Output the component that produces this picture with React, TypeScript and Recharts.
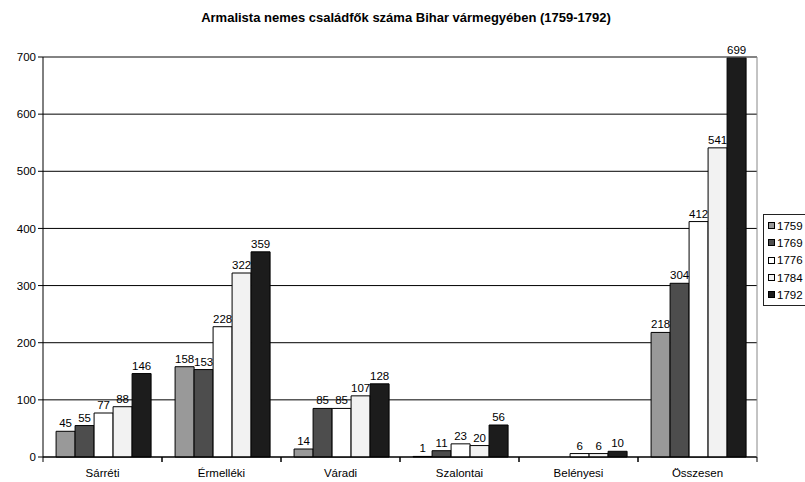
import { BarChart, Bar, XAxis, YAxis, CartesianGrid, LabelList, ReferenceLine } from 'recharts';

const categories = ['Sárréti', 'Érmelléki', 'Váradi', 'Szalontai', 'Belényesi', 'Összesen'];
const years = ['1759', '1769', '1776', '1784', '1792'];
const v1759 = [45, 158, 14, 1, null, 218];
const v1769 = [55, 153, 85, 11, null, 304];
const v1776 = [77, 228, 85, 23, 6, 412];
const v1784 = [88, 322, 107, 20, 6, 541];
const v1792 = [146, 359, 128, 56, 10, 699];
const yTicks = [0, 100, 200, 300, 400, 500, 600, 700];

const colors = ['#999999', '#4d4d4d', '#ffffff', '#f2f2f2', '#1c1c1c'];
const seriesValues = [v1759, v1769, v1776, v1784, v1792];

const data = categories.map((name, i) => {
  const row: Record<string, string | number | null> = { name };
  years.forEach((y, k) => {
    row[y] = seriesValues[k][i];
  });
  return row;
});

const font = '"Liberation Sans", Arial, sans-serif';

function CategoryTick(props: any) {
  const { x, y, payload } = props;
  const half = payload.offset || 0;
  return (
    <g>
      <line x1={x - half} y1={y - 8} x2={x - half} y2={y - 3} stroke="#000" />
      <line x1={x + half} y1={y - 8} x2={x + half} y2={y - 3} stroke="#000" />
      <text x={x} y={y + 12} textAnchor="middle" fontSize={11.5} fill="#000" fontFamily={font}>
        {payload.value}
      </text>
    </g>
  );
}

function LegendBox() {
  return (
    <div
      style={{
        position: 'absolute',
        left: 763,
        top: 214,
        border: '1px solid #222',
        width: 48,
        padding: '2px 0 2px 4px',
        background: '#fff',
        fontFamily: font,
        fontSize: 11.5,
      }}
    >
      {years.map((y, k) => (
        <div key={y} style={{ display: 'flex', alignItems: 'center', height: 17.3 }}>
          <span style={{ display: 'inline-block', width: 5, height: 5, border: '1px solid #000', background: colors[k], marginRight: 2 }} />
          <span>{y}</span>
        </div>
      ))}
    </div>
  );
}

export default function App() {
  return (
    <div style={{ position: 'absolute', left: 0, top: 0, width: 805, height: 482, overflow: 'hidden', background: '#fff' }}>
      <BarChart
        width={805}
        height={482}
        data={data}
        margin={{ top: 57, right: 47, bottom: 0, left: 0 }}
        barCategoryGap="11%"
        barGap={0}
      >
        <text x={406} y={22} textAnchor="middle" fontSize={13} fontWeight="bold" fontFamily={font} fill="#000">
          Armalista nemes családfők száma Bihar vármegyében (1759-1792)
        </text>
        <CartesianGrid vertical={false} stroke="#000" />
        <XAxis
          dataKey="name"
          height={25}
          axisLine={{ stroke: '#000' }}
          tickLine={false}
          tick={<CategoryTick />}
          interval={0}
        />
        <YAxis
          domain={[0, 700]}
          ticks={yTicks}
          width={43}
          axisLine={{ stroke: '#000' }}
          tickLine={{ stroke: '#000' }}
          tickSize={5}
          tick={{ fontSize: 11.5, fill: '#000', fontFamily: font }}
          interval={0}
        />
        <YAxis yAxisId="r" orientation="right" width={1} domain={[0, 700]} tick={false} tickLine={false} axisLine={{ stroke: '#888' }} />
        <ReferenceLine y={700} stroke="#888" />
        {years.map((y, k) => (
          <Bar key={y} dataKey={y} fill={colors[k]} stroke="#000" strokeWidth={1} isAnimationActive={false}>
            <LabelList dataKey={y} position="top" offset={4} fontSize={11.5} fill="#000" stroke="none" fontFamily={font} />
          </Bar>
        ))}
      </BarChart>
      <LegendBox />
    </div>
  );
}
